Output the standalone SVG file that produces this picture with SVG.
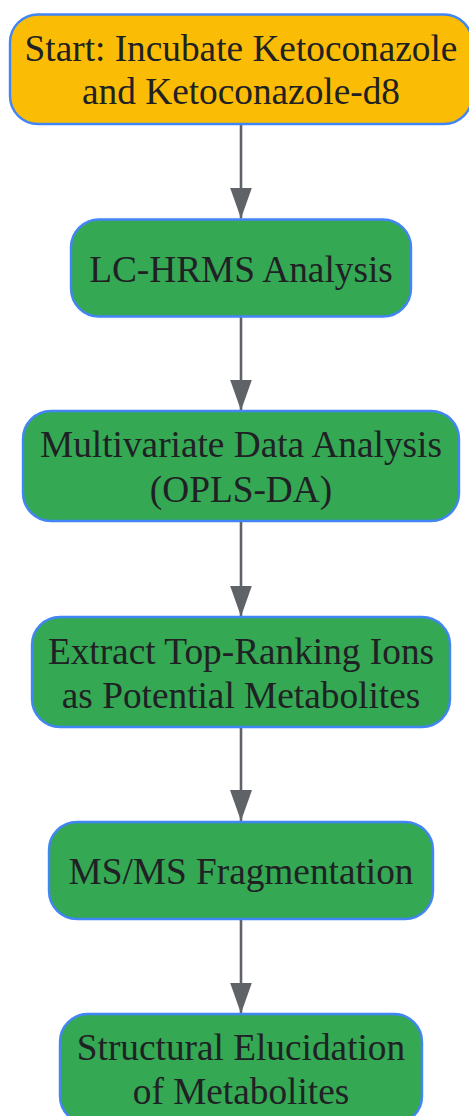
<svg xmlns="http://www.w3.org/2000/svg" width="469" height="1116" viewBox="0 0 469 1116">
<style>
.node rect{stroke:#4285F4;stroke-width:2.4}
.start rect{fill:#FBBC05}
.step rect{fill:#34A853}
.node text{font-family:"Liberation Serif","Times New Roman",serif;font-size:37.3px;fill:#202124;text-anchor:middle}
.edge{stroke:#5F6368;stroke-width:2.6;fill:none;marker-end:url(#ah)}
</style>
<defs>
<marker id="ah" markerUnits="userSpaceOnUse" markerWidth="31" markerHeight="22" viewBox="0 0 31 22" refX="31" refY="11" orient="auto">
<path d="M0,0 L31,11 L0,22 Z" fill="#5F6368"/>
</marker>
</defs>
<g id="connectors">
<path class="edge" d="M241,124 L241,218.5"/>
<path class="edge" d="M241,317 L241,410.5"/>
<path class="edge" d="M241,521 L241,616.5"/>
<path class="edge" d="M241,727 L241,821"/>
<path class="edge" d="M241,919 L241,1013.5"/>
</g>
<g id="n1" class="node start">
<rect x="10" y="14.5" width="462" height="109.5" rx="28"/>
<text x="241" y="61">Start: Incubate Ketoconazole</text>
<text x="241" y="104">and Ketoconazole-d8</text>
</g>
<g id="n2" class="node step">
<rect x="71" y="219.5" width="340" height="97" rx="28"/>
<text x="241" y="282">LC-HRMS Analysis</text>
</g>
<g id="n3" class="node step">
<rect x="23" y="411" width="436" height="110" rx="28"/>
<text x="241" y="457">Multivariate Data Analysis</text>
<text x="241" y="501.5">(OPLS-DA)</text>
</g>
<g id="n4" class="node step">
<rect x="32" y="617" width="418" height="110" rx="28"/>
<text x="241" y="663.5">Extract Top-Ranking Ions</text>
<text x="241" y="707.5">as Potential Metabolites</text>
</g>
<g id="n5" class="node step">
<rect x="49" y="822" width="384" height="97" rx="28"/>
<text x="241" y="883.5">MS/MS Fragmentation</text>
</g>
<g id="n6" class="node step">
<rect x="60" y="1014" width="362" height="110" rx="28"/>
<text x="241" y="1060">Structural Elucidation</text>
<text x="241" y="1104">of Metabolites</text>
</g>
</svg>
